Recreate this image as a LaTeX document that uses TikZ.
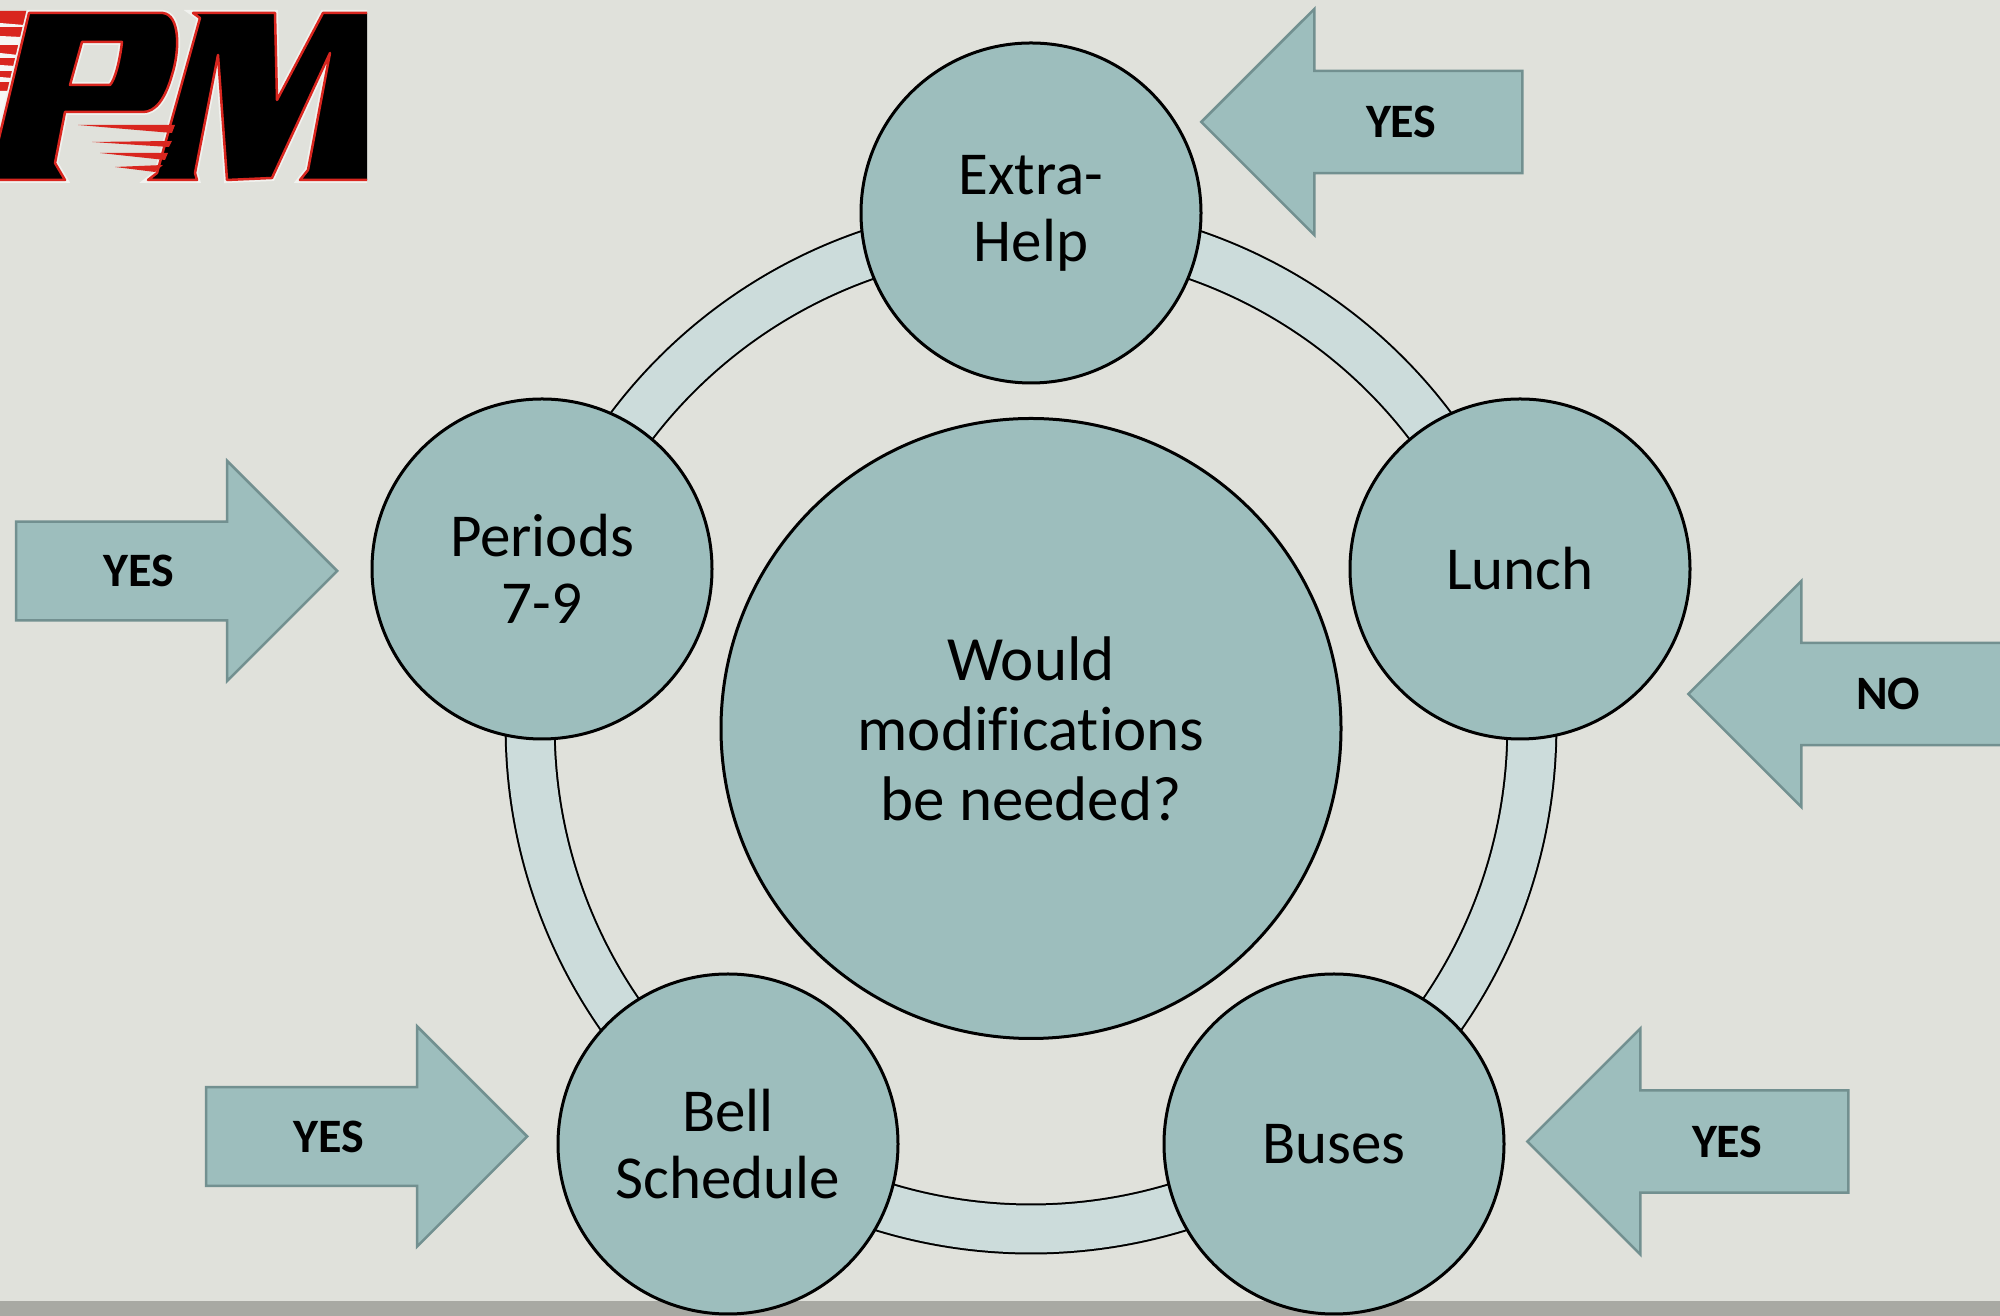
\documentclass[tikz,border=0pt]{standalone}
\usepackage{fontspec}
\setmainfont{Carlito}[Ligatures=NoCommon]
\usetikzlibrary{shapes.arrows,backgrounds,calc}

\begin{document}
\begin{tikzpicture}
          [x=1pt, y=1pt,
           every node/.style = {text = black, align = center},
           hub/.style   = {circle, draw = black, line width = 3pt, fill = circlecolor, inner sep = 0pt},
           center topic/.style = {hub, minimum size = 620pt, font = \fontsize{63}{70}\selectfont},
           topic/.style = {hub, minimum size = 340pt, font = \fontsize{61}{67}\selectfont},
           answer/.style = {single arrow, draw = arrowcolor, line width = 2.5pt, fill = circlecolor,
                            single arrow tip angle = 90, minimum height = 321pt, inner xsep = 1pt,
                            font = \fontsize{48}{48}\selectfont\bfseries},
           answer left/.style = {answer, shape border rotate = 180, anchor = tip,
                            single arrow head extend = 56pt, minimum width = 226pt, inner ysep = 29pt,
                            execute at begin node = \hspace*{28pt}},
           answer right/.style = {answer, anchor = tip,
                            single arrow head extend = 54pt, minimum width = 220pt, inner ysep = 27pt,
                            execute at end node = \hspace*{26pt}},
           ringlink/.style = {draw = black, line width = 2pt, double = ringcolor, double distance = 47pt},
           logoink/.style = {draw = logored, line width = 2.5pt, fill = black, line join = round,
                             preaction = {draw = white!55!pagecolor, line width = 6pt}},
          ]

% Define colors
\definecolor{pagecolor}{HTML}{E0E1DB}
\definecolor{barcolor}{HTML}{A8A9A3}
\definecolor{circlecolor}{HTML}{9DBEBD}
\definecolor{ringcolor}{HTML}{CCDCDB}
\definecolor{arrowcolor}{HTML}{729090}
\definecolor{logored}{HTML}{D9261F}

\useasboundingbox (0,0) rectangle (2000,1316);

% Circles
\node [center topic](question) at (1031,587.5) {Would\\modifications\\be needed?};
\node [topic](extra)   at (1031,1103) {Extra-\\Help};
\node [topic](lunch)   at (1520,747)  {Lunch};
\node [topic](buses)   at (1334,172)  {Buses};
\node [topic](bell)    at (728,172)   {Bell\\Schedule};
\node [topic](periods) at (542,747)   {Periods\\7-9};

% Arrows
\node [answer left](extraarrow)    at (1199.5,1194)  {YES};
\node [answer left](luncharrow)    at (1686.5,622)   {NO};
\node [answer left](busesarrow)    at (1525.5,174.5) {YES};
\node [answer right](bellarrow)    at (529,179.5) {YES};
\node [answer right](periodsarrow) at (339,745)   {YES};

% Ring points behind the circles
\coordinate (extraring)   at ($(question)+(90:501pt)$);
\coordinate (lunchring)   at ($(question)+(18:501pt)$);
\coordinate (busesring)   at ($(question)+(-54:501pt)$);
\coordinate (bellring)    at ($(question)+(-126:501pt)$);
\coordinate (periodsring) at ($(question)+(162:501pt)$);

\begin{pgfonlayer}{background}
   \fill [pagecolor] (0,0) rectangle (2000,1316);
   \fill [barcolor]  (0,0) rectangle (2000,15.3);
   \path [ringlink] (extraring)   to[bend left=36, looseness=.94] (lunchring);
   \path [ringlink] (lunchring)   to[bend left=36, looseness=.94] (busesring);
   \path [ringlink] (busesring)   to[bend left=36, looseness=.94] (bellring);
   \path [ringlink] (bellring)    to[bend left=36, looseness=.94] (periodsring);
   \path [ringlink] (periodsring) to[bend left=36, looseness=.94] (extraring);
\end{pgfonlayer}

% Logo
\begin{scope}[yshift=1316pt, y=-1pt]
   \clip (0,0) rectangle (367,190);
   % stripes left of the P
   \fill [logored] (0,11) -- (31,11) -- (0,160) -- cycle;
   \fill [white!70!pagecolor] (0,23) -- (24,25) -- (23,27) -- (0,27) -- cycle
                              (0,36) -- (21,37) -- (19,45) -- (0,45) -- cycle
                              (0,53) -- (18,55) -- (17,58) -- (0,58) -- cycle
                              (0,65) -- (15,66) -- (14,71) -- (0,71) -- cycle
                              (0,77) -- (12,78) -- (11,82) -- (0,82) -- cycle
                              (0,91) -- (8,91) -- (0,135) -- cycle;
   % the letters
   \path [logoink, even odd rule]
        (29,13) -- (163,13) .. controls (180,15) and (180,50) .. (172,75)
        .. controls (165,100) and (155,112) .. (143,112) -- (65,112) -- (55,163) -- (65,180) -- (-5,180) -- (-5,155) -- cycle
        (82,42) -- (122,42) .. controls (120,60) and (115,80) .. (110,85) -- (70,85) -- cycle;
   \path [logoink]
        (193,13) -- (275,13) -- (277,100) -- (323,13) -- (372,13) -- (372,180) -- (300,180) -- (308,170)
        -- (330,53) -- (272,178) -- (227,180) -- (218,55) -- (195,173) -- (197,180) -- (148,180) -- (157,173) -- (200,18) -- cycle;
   % stripes under the P
   \fill [logored] (78,125) -- (175,125) -- (172,133) -- cycle
                   (92,142) -- (172,141) -- (169,147) -- cycle
                   (100,153) -- (168,153) -- (165,160) -- cycle
                   (115,167) -- (163,165) -- (155,172) -- cycle;
\end{scope}

\end{tikzpicture}
\end{document}
